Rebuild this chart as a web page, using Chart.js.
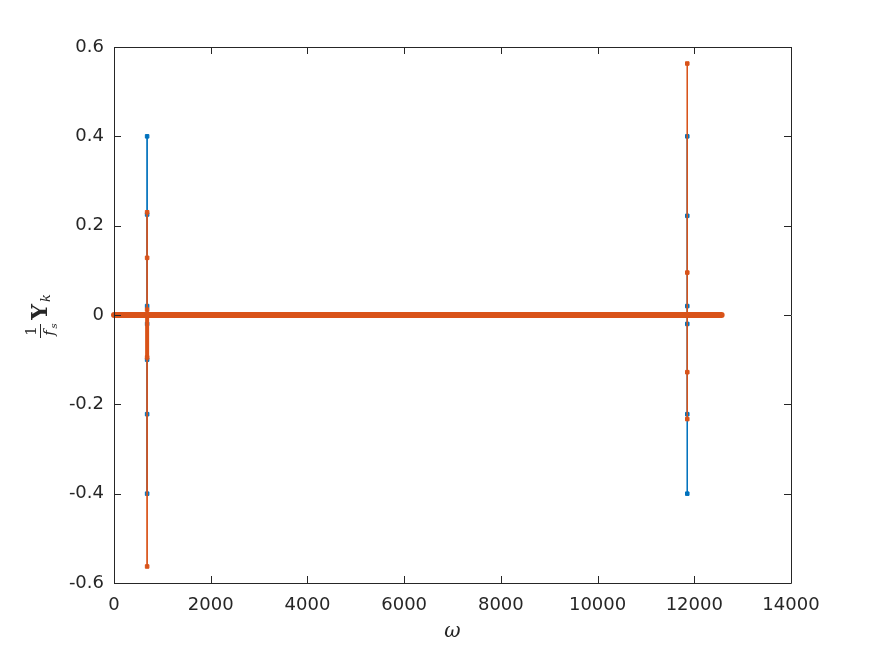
<!DOCTYPE html>
<html>
<head>
<meta charset="utf-8">
<script src="https://cdn.jsdelivr.net/npm/chart.js@4.4.1/dist/chart.umd.min.js"></script>
<style>
  html, body { margin: 0; padding: 0; background: #fff; }
  #wrap { width: 874px; height: 655px; }
</style>
</head>
<body>
<div id="wrap"><canvas id="chart" width="874" height="655"></canvas></div>
<script>
// x range of the spectrum and the two peak frequencies
const omegaRange = [0, 12566];
const peakOmega = [685, 11855];

// values read at each peak (real part in blue, imag part in orange)
const realLeft = [0.4, 0.225, 0.02, -0.02, -0.1, -0.222, -0.4];
const imagLeft = [0.23, 0.128, 0.012, 0, -0.095, -0.563];
const realRight = [0.4, 0.222, 0.02, -0.02, -0.222, -0.4];
const imagRight = [0.563, 0.095, 0, -0.128, -0.233];

const xTicks = [0, 2000, 4000, 6000, 8000, 10000, 12000, 14000];
const yTicks = [-0.6, -0.4, -0.2, 0, 0.2, 0.4, 0.6];

const BLUE = '#0072BD';
const ORANGE = '#D95319';

function spike(x, vals) {
    return vals.map(v => ({ x: x, y: v }));
}

// frame with inward ticks on all four sides, like a boxed axes
const boxPlugin = {
    id: 'box',
    afterDatasetsDraw(chart) {
        const ctx = chart.ctx;
        const a = chart.chartArea;
        const xs = chart.scales.x, ys = chart.scales.y;
        ctx.save();
        ctx.strokeStyle = '#262626';
        ctx.lineWidth = 1;
        ctx.beginPath();
        ctx.rect(a.left + 0.5, a.top + 0.5, a.right - a.left, a.bottom - a.top);
        xTicks.forEach(t => {
            const px = Math.round(xs.getPixelForValue(t)) + 0.5;
            ctx.moveTo(px, a.bottom); ctx.lineTo(px, a.bottom - 7);
            ctx.moveTo(px, a.top); ctx.lineTo(px, a.top + 7);
        });
        yTicks.forEach(t => {
            const py = Math.round(ys.getPixelForValue(t)) + 0.5;
            ctx.moveTo(a.left, py); ctx.lineTo(a.left + 7, py);
            ctx.moveTo(a.right, py); ctx.lineTo(a.right - 7, py);
        });
        ctx.stroke();

        // x label
        ctx.fillStyle = '#262626';
        ctx.font = 'italic 20px "DejaVu Serif"';
        ctx.textAlign = 'center';
        ctx.textBaseline = 'middle';
        ctx.fillText('\u03c9', (a.left + a.right) / 2, 632);

        // y label: 1/f_s Y_k, rotated
        ctx.translate(40, (a.top + a.bottom) / 2);
        ctx.rotate(-Math.PI / 2);
        ctx.font = '15px "DejaVu Serif"';
        ctx.fillText('1', -16, -8);
        ctx.beginPath();
        ctx.moveTo(-23, 0.5); ctx.lineTo(-9, 0.5);
        ctx.stroke();
        ctx.font = 'italic 15px "DejaVu Serif"';
        ctx.fillText('f', -18, 10);
        ctx.font = 'italic 10px "DejaVu Serif"';
        ctx.fillText('s', -11, 14);
        ctx.font = 'bold 22px "DejaVu Serif"';
        ctx.fillText('Y', 3, 1);
        ctx.font = 'italic 13px "DejaVu Serif"';
        ctx.fillText('k', 17, 7);
        ctx.restore();
    }
};

const common = { showLine: true, pointStyle: 'rect', pointRadius: 2.5, borderWidth: 1, clip: false };

new Chart(document.getElementById('chart'), {
    type: 'scatter',
    data: {
        datasets: [
            Object.assign({}, common, {
                data: spike(peakOmega[0], imagLeft), borderColor: ORANGE, backgroundColor: ORANGE, order: 1
            }),
            Object.assign({}, common, {
                data: spike(peakOmega[0], [0, -0.095]), borderColor: ORANGE, backgroundColor: ORANGE,
                borderWidth: 4, pointRadius: 0, order: 1
            }),
            Object.assign({}, common, {
                data: spike(peakOmega[1], imagRight), borderColor: ORANGE, backgroundColor: ORANGE, order: 1
            }),
            Object.assign({}, common, {
                data: omegaRange.map(x => ({ x: x, y: 0 })), borderColor: ORANGE, backgroundColor: ORANGE,
                borderWidth: 6, pointRadius: 0, borderCapStyle: 'round', order: 1
            }),
            Object.assign({}, common, {
                data: spike(peakOmega[0], realLeft), borderColor: BLUE, backgroundColor: BLUE, order: 2
            }),
            Object.assign({}, common, {
                data: spike(peakOmega[1], realRight), borderColor: BLUE, backgroundColor: BLUE, order: 2
            })
        ]
    },
    options: {
        responsive: false,
        animation: false,
        layout: { padding: { top: 47, right: 83, left: 0, bottom: 0 } },
        plugins: { legend: { display: false }, tooltip: { enabled: false } },
        scales: {
            x: {
                type: 'linear', min: 0, max: 14000,
                afterBuildTicks: s => { s.ticks = xTicks.map(v => ({ value: v })); },
                afterFit: s => { s.height = 72; },
                grid: { display: false, drawTicks: false },
                border: { display: false },
                ticks: { padding: 12, color: '#262626', font: { family: 'DejaVu Sans', size: 18 },
                    maxRotation: 0, autoSkip: false, callback: v => String(v) }
            },
            y: {
                type: 'linear', min: -0.6, max: 0.6,
                afterBuildTicks: s => { s.ticks = yTicks.map(v => ({ value: v })); },
                afterFit: s => { s.width = 114; },
                grid: { display: false, drawTicks: false },
                border: { display: false },
                ticks: { padding: 10, color: '#262626', font: { family: 'DejaVu Sans', size: 18 },
                    autoSkip: false, callback: v => { const n = Number(v.toFixed(1)); return n === 0 ? '0' : String(n); } }
            }
        }
    },
    plugins: [boxPlugin]
});
</script>
</body>
</html>
